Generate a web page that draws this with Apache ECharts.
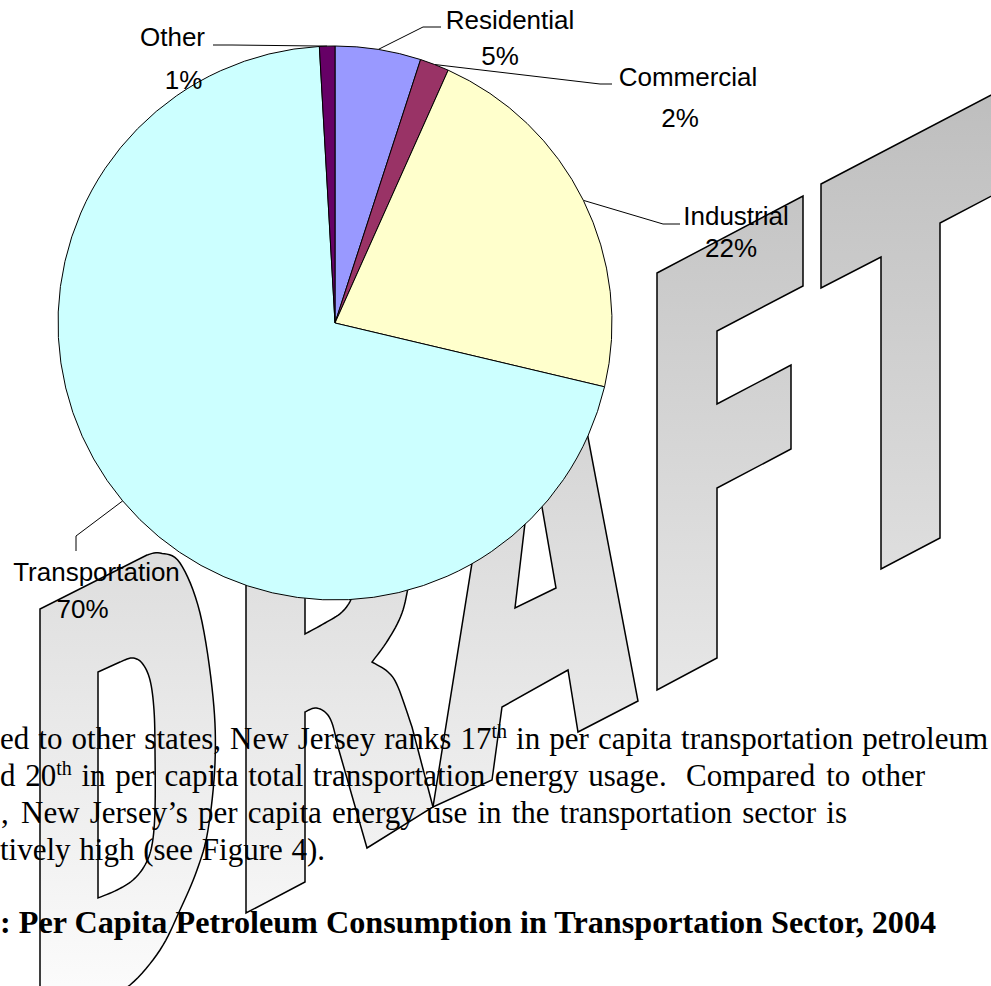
<!DOCTYPE html>
<html>
<head>
<meta charset="utf-8">
<script src="https://cdn.jsdelivr.net/npm/echarts@6/dist/echarts.min.js"></script>
<style>
html,body{margin:0;padding:0;background:#fff;overflow:hidden}
#chart{width:991px;height:986px}
</style>
</head>
<body>
<div id="chart"></div>
<script>
// ---------- chart data ----------
const categories = ['Residential', 'Commercial', 'Industrial', 'Transportation', 'Other'];
const shares = [5.0, 1.7, 22.0, 70.4, 0.9];

// ---------- document text around the chart ----------
const bodyLines = [
  'ed to other states, New Jersey ranks 17[th] in per capita transportation petroleum',
  'd 20[th] in per capita total transportation energy usage.  Compared to other',
  ', New Jersey\u2019s per capita energy use in the transportation sector is',
  'tively high (see Figure 4).'
];
const captionText = ': Per Capita Petroleum Consumption in Transportation Sector, 2004';
const watermarkText = 'DRAFT';

// ---------- styles / layout (kept apart from the data) ----------
const sliceColors = ['#9999FF', '#993366', '#FFFFCC', '#CCFFFF', '#660066'];
const CX = 335, CY = 323, R = 277;
const labelSpots = [[505, 38], [684, 97.5], [733.5, 232], [89.5, 590], [178, 58.5]];
const labelLineHeights = [36, 41, 32, 37, 43];
const labelShift = [5, 4, 2.5, 7, -5.5];
const leaderPts = [
  [[423, 27], [441, 27]],
  [[600, 84], [612, 84]],
  [[663, 224], [680, 224]],
  [[76, 536], [76, 551]],
  [[232, 45], [213, 45]]
];
const lineLayout = [
  { base: 749, anchors: [[0, 0]], end: 988 },
  { base: 786, anchors: [[0, 0], [10, 686]], end: 925 },
  { base: 823, anchors: [[0, 1], [1, 21]], end: 847 },
  { base: 860, anchors: [[0, 0]], end: 325 }
];
const SERIF = '"Liberation Serif", "Times New Roman", Times, serif';
const SANS = '"Liberation Sans", Arial, Helvetica, sans-serif';
const BODY_FS = 31, SUP_FS = 20, CAP_FS = 32.2, BL = 0.34;

const total = shares.reduce((a, b) => a + b, 0);
function edgePoint(i) {
  let start = 0;
  for (let k = 0; k < i; k++) start += shares[k];
  const mid = (start + shares[i] / 2) / total * 2 * Math.PI;
  return [CX + R * Math.sin(mid), CY - R * Math.cos(mid)];
}

// ---------- helpers for the watermark outline ----------
function curve(pts, seg) {
  seg = seg || 8;
  const out = [];
  for (let i = 0; i < pts.length - 1; i++) {
    const p0 = pts[Math.max(i - 1, 0)], p1 = pts[i], p2 = pts[i + 1], p3 = pts[Math.min(i + 2, pts.length - 1)];
    for (let t = 0; t < seg; t++) {
      const s = t / seg, s2 = s * s, s3 = s2 * s;
      const f = (a, b, c, d) => 0.5 * ((2 * b) + (-a + c) * s + (2 * a - 5 * b + 4 * c - d) * s2 + (-a + 3 * b - 3 * c + d) * s3);
      out.push([f(p0[0], p1[0], p2[0], p3[0]), f(p0[1], p1[1], p2[1], p3[1])]);
    }
  }
  out.push(pts[pts.length - 1]);
  return out;
}
function build(parts) {
  let out = [];
  parts.forEach(p => { out = out.concat(p[0] === 'C' ? curve(p[1]) : p[1]); });
  return out;
}
const letterShapes = [
  // D
  build([['L', [[40, 1033], [40, 609], [147, 555]]],
         ['C', [[147, 555], [160, 553], [180, 563], [200, 613], [213, 697], [215, 763], [208, 830], [197, 870], [180, 910], [160, 950], [130, 985], [95, 1005]]]]),
  // R
  build([['L', [[246, 913], [246, 520], [370, 458]]],
         ['C', [[370, 458], [405, 470], [422, 520], [410, 578], [402, 613], [388, 640], [372, 662]]],
         ['C', [[372, 662], [388, 672], [398, 687], [412, 727]]],
         ['L', [[433, 807], [367, 848]]],
         ['C', [[338, 747], [332, 723], [325, 712], [315, 708], [305, 712]]],
         ['L', [[305, 882]]]]),
  // A
  [[514, 300], [562, 300], [638, 701], [578, 732], [568, 670], [502, 707], [492, 780], [433, 807]],
  // F
  [[657, 273], [803, 196], [803, 286], [717, 331], [717, 404], [791, 365], [791, 449], [717, 488], [717, 658], [657, 690]],
  // T
  [[821, 184], [1100, 38], [1100, 139], [940, 223], [940, 538], [881, 569], [881, 257], [821, 288]]
];
const letterHoles = [
  build([['L', [[98, 672]]],
         ['C', [[98, 898], [117, 890], [133, 880], [145, 865], [152, 845], [155, 810], [155, 750], [154, 710], [150, 680], [142, 663], [132, 658], [120, 662]]]]),
  build([['L', [[305, 500]]],
         ['C', [[305, 634], [325, 623], [342, 612], [352, 597], [356, 575], [356, 520]]],
         ['L', [[330, 495]]]]),
  [[533, 455], [515, 608], [556, 588]]
];

const grad = new echarts.graphic.LinearGradient(0, 95, 0, 1000, [
  { offset: 0, color: '#bebebe' }, { offset: 1, color: '#fcfcfc' }
], true);

const elements = [];
letterShapes.forEach((pts, i) => {
  elements.push({ type: 'polygon', z: 0, silent: true, name: watermarkText[i],
    shape: { points: pts }, style: { fill: grad, stroke: '#000', lineWidth: 1.5 } });
});
letterHoles.forEach(pts => {
  elements.push({ type: 'polygon', z: 1, silent: true,
    shape: { points: pts }, style: { fill: '#fff', stroke: '#000', lineWidth: 1.5 } });
});

// ---------- body text (justified like the source page) ----------
const mctx = document.createElement('canvas').getContext('2d');
function tw(s, fs, weight) { mctx.font = (weight || 'normal') + ' ' + fs + 'px ' + SERIF; return mctx.measureText(s).width; }
function textEl(str, x, baseline, fs, weight) {
  return { type: 'text', x: x, y: baseline - BL * fs, z: 3, silent: true,
    style: { text: str, fontSize: fs, fontFamily: SERIF, fontWeight: weight || 'normal', fill: '#000',
      align: 'left', verticalAlign: 'middle', textAlign: 'left', textVerticalAlign: 'middle' } };
}
bodyLines.forEach((line, li) => {
  const L = lineLayout[li];
  const words = line.split(' ').map(t => {
    const m = t.match(/^(.*?)\[(.*)\]$/);
    return m ? { main: m[1], sup: m[2] } : { main: t, sup: '' };
  });
  const n = words.length;
  const widths = words.map(w => (w.main ? tw(w.main, BODY_FS) : 0) + (w.sup ? tw(w.sup, SUP_FS) : 0));
  const pos = new Array(n);
  const anchors = L.anchors;
  for (let k = 0; k < anchors.length; k++) {
    const ia = anchors[k][0], xa = anchors[k][1];
    let ib, gapSpace;
    if (k + 1 < anchors.length) {
      ib = anchors[k + 1][0];
      let W = 0; for (let j = ia; j < ib; j++) W += widths[j];
      gapSpace = (anchors[k + 1][1] - xa - W) / (ib - ia);
    } else {
      ib = n;
      let W = 0; for (let j = ia; j < n; j++) W += widths[j];
      gapSpace = (n - 1 - ia) > 0 ? (L.end - xa - W) / (n - 1 - ia) : 0;
    }
    let cx = xa;
    for (let j = ia; j < ib; j++) { pos[j] = cx; cx += widths[j] + gapSpace; }
  }
  words.forEach((w, wi) => {
    if (w.main) elements.push(textEl(w.main, pos[wi], L.base, BODY_FS));
    if (w.sup) elements.push(textEl(w.sup, pos[wi] + tw(w.main, BODY_FS), L.base - 11, SUP_FS));
  });
});
elements.push(textEl(captionText, 0, 933, CAP_FS, 'bold'));

// ---------- chart ----------
function pad(v, leftSide) {
  const p = Math.abs(2 * v);
  return leftSide ? [0, 0, 0, p] : [0, p, 0, 0];
}
const chart = echarts.init(document.getElementById('chart'), null, { renderer: 'svg' });
chart.setOption({
  backgroundColor: '#ffffff',
  animation: false,
  graphic: { elements: elements },
  series: [{
    type: 'pie',
    z: 2,
    center: [CX, CY],
    radius: R,
    startAngle: 90,
    clockwise: true,
    percentPrecision: 0,
    avoidLabelOverlap: false,
    emphasis: { disabled: true },
    itemStyle: { borderColor: '#000', borderWidth: 1 },
    label: {
      show: true,
      position: 'outside',
      formatter: '{n|{b}}\n{p|{d}%}',
      fontSize: 26,
      fontFamily: SANS,
      color: '#000',
      align: 'center'
    },
    labelLine: { show: true, length: 10, length2: 10, smooth: false, lineStyle: { color: '#000', width: 1 } },
    labelLayout: function (p) {
      const i = p.dataIndex;
      return {
        x: labelSpots[i][0], y: labelSpots[i][1], align: 'center', verticalAlign: 'middle',
        labelLinePoints: [edgePoint(i), leaderPts[i][0], leaderPts[i][1]]
      };
    },
    data: categories.map((name, i) => {
      const s = labelShift[i];
      const lh = labelLineHeights[i];
      const base = { fontSize: 26, fontFamily: SANS, color: '#000', lineHeight: lh };
      return {
        name: name,
        value: shares[i],
        itemStyle: { color: sliceColors[i] },
        label: {
          lineHeight: lh,
          rich: {
            n: Object.assign({ padding: pad(s, s > 0) }, base),
            p: Object.assign({ padding: pad(s, s < 0) }, base)
          }
        }
      };
    })
  }]
});
</script>
</body>
</html>
